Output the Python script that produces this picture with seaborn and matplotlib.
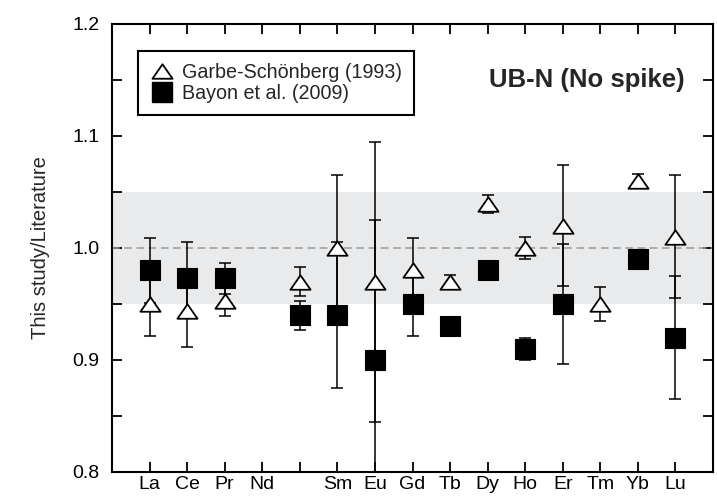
import numpy as np
import pandas as pd
import matplotlib
matplotlib.use("Agg")
import matplotlib.pyplot as plt
from matplotlib.lines import Line2D
from matplotlib.path import Path
import seaborn as sns

# REE positions along the x axis (Pm slot is left unlabeled)
tick_labels = ["La", "Ce", "Pr", "Nd", "", "Sm", "Eu", "Gd", "Tb", "Dy", "Ho", "Er", "Tm", "Yb", "Lu"]
positions = list(range(1, 16))

# Ratios of this study to literature values
garbe = [0.950, 0.944, 0.953, np.nan, 0.970, 1.000, 0.970, 0.980, 0.970, 1.039, 1.000, 1.020, 0.950, 1.060, 1.010]
bayon = [0.980, 0.973, 0.973, np.nan, 0.940, 0.940, 0.900, 0.950, 0.930, 0.980, 0.910, 0.950, np.nan, 0.990, 0.920]
# Reproducibility (same relative uncertainty applied to both comparisons)
err = [0.029, 0.032, 0.014, np.nan, 0.013, 0.065, 0.125, 0.029, 0.006, 0.008, 0.010, 0.054, 0.015, 0.006, 0.055]

df = pd.DataFrame({"pos": positions, "garbe": garbe, "bayon": bayon, "err": err})

sns.set_theme(style="ticks")
plt.rcParams["font.family"] = ["Liberation Sans", "DejaVu Sans"]

W, H = 717, 499
fig = plt.figure(figsize=(W / 100, H / 100), dpi=100)
ax = fig.add_axes([112 / W, 1 - 472 / H, (713 - 112) / W, (472 - 24) / H])

# +/-5 % band and unity line
ax.axhspan(0.95, 1.05, color="#e9eaeb", zorder=0, lw=0)
ax.axhline(1.0, color="#9a9a9a", lw=1.1, ls=(0, (5, 3)), zorder=1)

# error bars
for col in ["bayon", "garbe"]:
    ax.errorbar(df["pos"], df[col], yerr=df["err"], fmt="none", ecolor="black",
                elinewidth=1.1, capsize=4.5, capthick=1.1, zorder=2)

# open triangle, a little flatter than matplotlib's default
tri = Path([(-1, -0.72), (1, -0.72), (0, 0.72), (-1, -0.72)],
           [Path.MOVETO, Path.LINETO, Path.LINETO, Path.CLOSEPOLY])
ms_tri = 14.5
ms_sq = 14.6

sns.scatterplot(data=df, x="pos", y="bayon", marker="s", s=ms_sq ** 2, color="black",
                edgecolor="black", linewidth=0.8, ax=ax, zorder=3, legend=False)
sns.scatterplot(data=df, x="pos", y="garbe", marker=tri, s=ms_tri ** 2, color="white",
                edgecolor="black", linewidth=1.3, ax=ax, zorder=4, legend=False)

ax.set_xlim(0, 16)
ax.set_ylim(0.8, 1.2)
ax.set_xticks(positions)
ax.set_xticklabels(tick_labels)
yt = np.arange(0.8, 1.2001, 0.05)
ax.set_yticks(yt)
ax.set_yticklabels([f"{v:.1f}" if abs(round(v * 10) - v * 10) < 1e-6 else "" for v in yt])
ax.set_xlabel("")
ax.set_ylabel("This study/Literature", fontsize=14.5, labelpad=16)

ax.tick_params(axis="both", which="major", direction="in", length=7, width=1.3,
               top=True, right=True, labelsize=14, color="black", labelcolor="black")
ax.tick_params(axis="x", pad=3)
ax.tick_params(axis="y", pad=9)
for s in ax.spines.values():
    s.set_visible(True)
    s.set_linewidth(1.5)
    s.set_color("black")

handles = [
    Line2D([], [], ls="none", marker=tri, ms=ms_tri, mfc="white", mec="black", mew=1.3),
    Line2D([], [], ls="none", marker="s", ms=ms_sq, mfc="black", mec="black"),
]
leg = ax.legend(handles, ["Garbe-Schönberg (1993)", "Bayon et al. (2009)"],
                loc="upper left", bbox_to_anchor=(0.043, 0.94), fontsize=14.2,
                frameon=True, fancybox=False, framealpha=1, edgecolor="black",
                borderpad=0.6, labelspacing=0.1, handletextpad=0.45, handlelength=1.2,
                borderaxespad=0)
leg.get_frame().set_linewidth(1.5)

ax.text(0.952, 0.875, "UB-N (No spike)", transform=ax.transAxes, ha="right", va="center",
        fontsize=18.5, fontweight="bold")

fig.savefig("out.png", dpi=100)
